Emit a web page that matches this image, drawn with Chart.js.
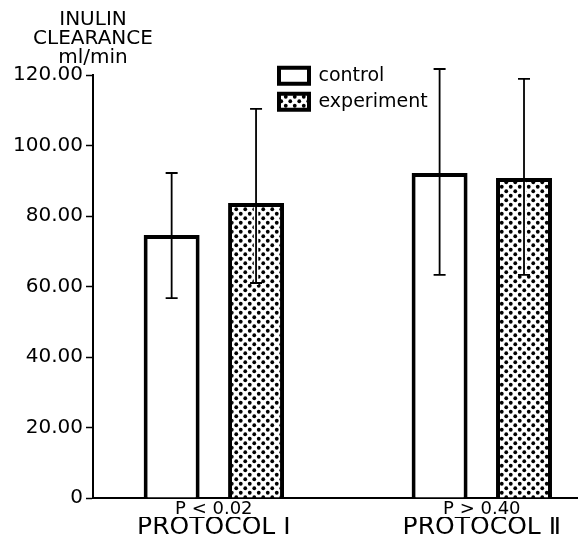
<!DOCTYPE html>
<html>
<head>
<meta charset="utf-8">
<script src="https://cdn.jsdelivr.net/npm/chart.js@4.4.0/dist/chart.umd.min.js"></script>
<style>
  html, body { margin: 0; padding: 0; background: #fff; }
</style>
</head>
<body>
<canvas id="myChart" width="578" height="545"></canvas>
<script>
// values
const groups = ['PROTOCOL Ⅰ', 'PROTOCOL Ⅱ'];
const pLabels = ['P < 0.02', 'P > 0.40'];
const control = [74.6, 92.2];
const controlLow = [56.7, 63.3];
const controlHigh = [92.2, 121.7];
const experiment = [83.7, 90.8];
const experimentLow = [61.0, 63.3];
const experimentHigh = [110.4, 118.9];
const yTicks = [0, 20, 40, 60, 80, 100, 120];
const yTitle = ['INULIN', 'CLEARANCE', 'ml/min'];

Chart.defaults.font.family = "'DejaVu Sans', sans-serif";
Chart.defaults.color = '#000';

// dotted fill for the experiment bars
function dots() {
  const c = document.createElement('canvas');
  c.width = 9; c.height = 9;
  const g = c.getContext('2d');
  g.fillStyle = '#fff';
  g.fillRect(0, 0, 9, 9);
  g.fillStyle = '#000';
  [[2.25, 2.25], [6.75, 6.75]].forEach(p => {
    g.beginPath();
    g.arc(p[0], p[1], 1.9, 0, Math.PI * 2);
    g.fill();
  });
  return g.createPattern(c, 'repeat');
}

const errorBars = {
  id: 'errorBars',
  afterDatasetsDraw(chart) {
    const ctx = chart.ctx, y = chart.scales.y;
    const lows = [controlLow, experimentLow], highs = [controlHigh, experimentHigh];
    chart.data.datasets.forEach((ds, d) => {
      chart.getDatasetMeta(d).data.forEach((bar, i) => {
        const top = y.getPixelForValue(highs[d][i]);
        const bot = y.getPixelForValue(lows[d][i]);
        ctx.save();
        // white gap where the whisker runs inside the bar
        ctx.strokeStyle = '#fff';
        ctx.lineWidth = 4.5;
        ctx.beginPath();
        ctx.moveTo(bar.x, Math.max(top, bar.y + 4));
        ctx.lineTo(bar.x, bot + 2);
        ctx.stroke();
        ctx.strokeStyle = '#000';
        ctx.lineWidth = 1.8;
        ctx.beginPath();
        ctx.moveTo(bar.x, top); ctx.lineTo(bar.x, bot);
        ctx.moveTo(bar.x - 6, top); ctx.lineTo(bar.x + 6, top);
        ctx.moveTo(bar.x - 6, bot); ctx.lineTo(bar.x + 6, bot);
        ctx.stroke();
        ctx.restore();
      });
    });
  }
};

const yTitlePlugin = {
  id: 'yTitle',
  afterDraw(chart) {
    const ctx = chart.ctx, x = chart.scales.y.right;
    ctx.save();
    ctx.font = "20px 'DejaVu Sans'";
    ctx.fillStyle = '#000';
    ctx.textAlign = 'center';
    ctx.textBaseline = 'middle';
    yTitle.forEach((t, i) => ctx.fillText(t, x, 20 + i * 19));
    ctx.restore();
  }
};

// put the legend up between the two groups
const legendSpot = {
  id: 'legendSpot',
  afterLayout(chart) {
    const lg = chart.legend, a = chart.chartArea;
    lg.left = a.left + 179;
    lg.right = lg.left + 200;
    lg.top = a.top - 15.75;
    lg.bottom = lg.top + 100;
  }
};

const groupTicks = s => { s.ticks = groups.map((g, i) => ({ value: i + 1 })); };

new Chart(document.getElementById('myChart'), {
  type: 'bar',
  data: {
    datasets: [{
      label: 'control',
      data: control.map((v, i) => ({ x: i + 1, y: v })),
      backgroundColor: '#fff',
      borderColor: '#000',
      borderWidth: 4,
      categoryPercentage: 0.63,
      barPercentage: 0.663
    }, {
      label: 'experiment',
      data: experiment.map((v, i) => ({ x: i + 1, y: v })),
      backgroundColor: dots(),
      borderColor: '#000',
      borderWidth: 4,
      categoryPercentage: 0.63,
      barPercentage: 0.663
    }]
  },
  options: {
    responsive: false,
    animation: false,
    layout: { padding: { top: 75, left: 0, right: 0, bottom: 0 } },
    scales: {
      x: {
        type: 'linear', min: 0.549, max: 2.359, offset: false, weight: 0,
        afterBuildTicks: groupTicks,
        afterFit: s => { s.height = 19; },
        ticks: { callback: v => pLabels[v - 1], font: { size: 18, lineHeight: 1 }, padding: 2, maxRotation: 0, autoSkip: false },
        grid: { display: false, drawTicks: false },
        border: { display: true, color: '#000', width: 2 }
      },
      x2: {
        type: 'linear', position: 'bottom', min: 0.549, max: 2.359, offset: false, weight: 1,
        afterBuildTicks: groupTicks,
        afterFit: s => { s.height = 28; },
        ticks: { callback: v => groups[v - 1], font: { size: 25, lineHeight: 1 }, padding: -2, maxRotation: 0, autoSkip: false },
        grid: { display: false, drawTicks: false },
        border: { display: false }
      },
      y: {
        min: 0, max: 120,
        afterBuildTicks: s => { s.ticks = yTicks.map(v => ({ value: v })); },
        afterFit: s => { s.width = 93; },
        ticks: { callback: v => v === 0 ? '0' : v.toFixed(2), font: { size: 20 }, padding: 3 },
        grid: { drawOnChartArea: false, tickLength: 7, tickWidth: 1.5, tickColor: '#000' },
        border: { color: '#000', width: 2 }
      }
    },
    plugins: {
      legend: {
        position: 'chartArea',
        align: 'start',
        labels: { boxWidth: 30, boxHeight: 16, padding: 7, font: { size: 19 }, color: '#000' }
      },
      tooltip: { enabled: false }
    }
  },
  plugins: [errorBars, yTitlePlugin, legendSpot]
});
</script>
</body>
</html>
